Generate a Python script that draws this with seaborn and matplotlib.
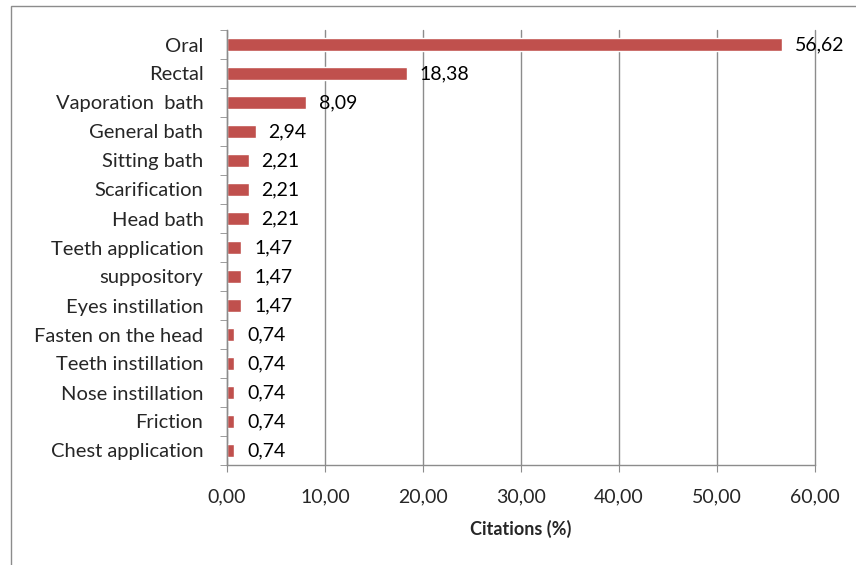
import matplotlib
matplotlib.use("Agg")
import matplotlib.pyplot as plt
import pandas as pd
import seaborn as sns
from matplotlib.ticker import FixedLocator
from matplotlib.patches import Rectangle

modes = ["Oral", "Rectal", "Vaporation  bath", "General bath", "Sitting bath",
         "Scarification", "Head bath", "Teeth application", "suppository",
         "Eyes instillation", "Fasten on the head", "Teeth instillation",
         "Nose instillation", "Friction", "Chest application"]
citations = [56.62, 18.38, 8.09, 2.94, 2.21, 2.21, 2.21, 1.47, 1.47, 1.47,
             0.74, 0.74, 0.74, 0.74, 0.74]
x_ticks = [0, 10, 20, 30, 40, 50, 60]

df = pd.DataFrame({"mode": modes, "citations": citations})

sns.set_style("white")
plt.rcParams["font.family"] = ["Lato", "DejaVu Sans"]

fig = plt.figure(figsize=(8.56, 5.65), dpi=100)
ax = fig.add_axes([227 / 856, 1 - 465 / 565, 588 / 856, 435 / 565])

sns.barplot(data=df, x="citations", y="mode", orient="h", color="#C0504D",
            saturation=1, width=0.42, ax=ax)

for i, v in enumerate(citations):
    ax.text(v + 1.3, i, f"{v:.2f}".replace(".", ","), va="center", ha="left",
            fontsize=14, color="black")

ax.set_xlim(0, 60)
ax.set_ylim(len(modes) - 0.5, -0.5)
ax.set_xticks(x_ticks)
ax.set_xticklabels([f"{t:.2f}".replace(".", ",") for t in x_ticks], fontsize=14)
ax.xaxis.grid(True, color="#8c8c8c", linewidth=1)
for gl in ax.get_xgridlines():
    gl.set_clip_on(False)
ax.set_axisbelow(True)

ax.yaxis.set_minor_locator(FixedLocator([i - 0.5 for i in range(len(modes) + 1)]))
ax.tick_params(axis="y", which="major", length=0, pad=17, labelsize=14.5)
ax.tick_params(axis="y", which="minor", length=5, color="#8c8c8c", left=True)
ax.tick_params(axis="x", which="major", length=5, color="#8c8c8c", bottom=True,
               pad=12)

for side in ["top", "right"]:
    ax.spines[side].set_visible(False)
for side in ["left", "bottom"]:
    ax.spines[side].set_color("#8c8c8c")
    ax.spines[side].set_linewidth(1)

ax.set_ylabel("")
ax.set_xlabel("Citations (%)", fontsize=13, fontweight="bold", labelpad=10)

fig.patches.append(Rectangle((11 / 856, -0.1), 1.0, 1 - 6 / 565 + 0.1,
                             transform=fig.transFigure, fill=False,
                             edgecolor="#8c8c8c", linewidth=1))

fig.savefig("out.png", dpi=100)
